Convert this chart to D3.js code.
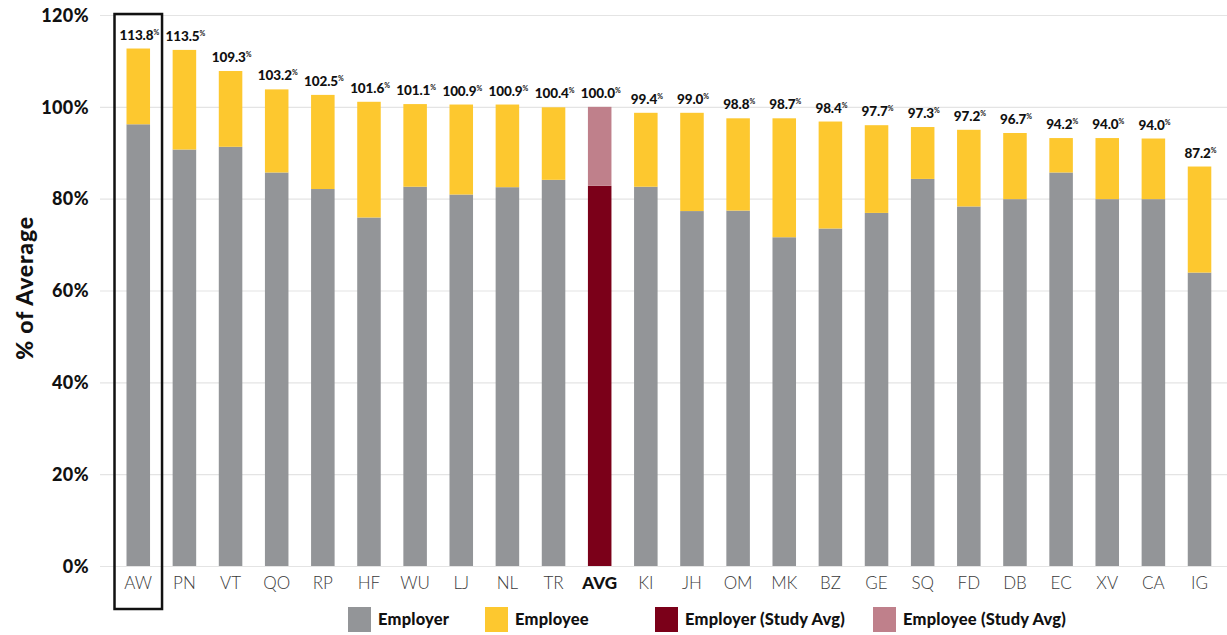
<!DOCTYPE html>
<html>
<head>
<meta charset="utf-8">
<script src="https://cdn.jsdelivr.net/npm/d3@7"></script>
<style>
  html, body { margin: 0; padding: 0; background: #fff; }
  svg { display: block; }
</style>
</head>
<body>
<svg id="chart" width="1227" height="635"></svg>
<script>
// ---- data ----
const categories  = ["AW","PN","VT","QO","RP","HF","WU","LJ","NL","TR","AVG","KI","JH","OM","MK","BZ","GE","SQ","FD","DB","EC","XV","CA","IG"];
const totalLabels = [113.8,113.5,109.3,103.2,102.5,101.6,101.1,100.9,100.9,100.4,100.0,99.4,99.0,98.8,98.7,98.4,97.7,97.3,97.2,96.7,94.2,94.0,94.0,87.2];
const employer    = [96.2,90.7,91.3,85.7,82.1,75.9,82.6,80.9,82.5,84.1,82.8,82.6,77.3,77.4,71.6,73.5,76.9,84.3,78.3,79.9,85.7,79.9,79.9,63.9];
const employee    = [16.5,21.7,16.5,18.1,20.5,25.2,18.0,19.6,18.0,15.8,17.2,16.1,21.4,20.1,25.9,23.3,19.1,11.3,16.7,14.4,7.5,13.3,13.2,23.1];
const yTicks      = [0,20,40,60,80,100,120];
const legendLabels = ["Employer","Employee","Employer (Study Avg)","Employee (Study Avg)"];
const avgCategory = "AVG";
const highlightCategory = "AW";

// ---- styles ----
const colors = { employer:"#939598", employee:"#fdc82f", avgEmployer:"#7b0019", avgEmployee:"#bf808b" };
const legendColors = [colors.employer, colors.employee, colors.avgEmployer, colors.avgEmployee];
const FONT = "Lato, 'Open Sans', sans-serif";

const svg = d3.select("#chart");

const y = d3.scaleLinear().domain([0,120]).range([566,15]);
const x = d3.scaleBand().domain(categories).range([115.2,1222.6]).paddingInner(0.49).paddingOuter(0.245);

// gridlines
const grid = svg.append("g").attr("transform","translate(100,0)")
  .call(d3.axisLeft(y).tickValues(yTicks).tickSize(-1127).tickFormat(""));
grid.select(".domain").remove();
grid.selectAll("line").attr("stroke","#e4e4e4").attr("stroke-width",1.2);

// y axis labels
const yAxis = svg.append("g").attr("transform","translate(89,0)")
  .call(d3.axisLeft(y).tickValues(yTicks).tickSize(0).tickPadding(0).tickFormat(d => d + "%"));
yAxis.select(".domain").remove();
yAxis.selectAll("text").attr("font-family",FONT).attr("font-weight",900).attr("font-size",18)
  .attr("letter-spacing",0.4).attr("fill","#111").attr("dy","0.35em");

// y title
svg.append("text").attr("transform","translate(33,288) rotate(-90)")
  .attr("text-anchor","middle").attr("font-family",FONT).attr("font-weight",900)
  .attr("font-size",23).attr("letter-spacing",0.8).attr("fill","#111").text("% of Average");

// bars
const rows = categories.map((c,i) => ({c, emp: employer[i], ee: employee[i], lab: totalLabels[i]}));
const bars = svg.append("g");
bars.selectAll("rect.er").data(rows).join("rect")
  .attr("x", d => x(d.c)).attr("width", x.bandwidth())
  .attr("y", d => y(d.emp)).attr("height", d => y(0) - y(d.emp))
  .attr("fill", d => d.c === avgCategory ? colors.avgEmployer : colors.employer);
bars.selectAll("rect.ee").data(rows).join("rect")
  .attr("x", d => x(d.c)).attr("width", x.bandwidth())
  .attr("y", d => y(d.emp + d.ee)).attr("height", d => y(d.emp) - y(d.emp + d.ee))
  .attr("fill", d => d.c === avgCategory ? colors.avgEmployee : colors.employee);

// value labels
const vl = svg.append("g").selectAll("text").data(rows).join("text")
  .attr("x", d => x(d.c) + x.bandwidth()/2 + 1)
  .attr("y", d => y(d.emp + d.ee) - 9)
  .attr("text-anchor","middle").attr("font-family",FONT).attr("font-weight",900)
  .attr("font-size",13.5).attr("fill","#111").attr("letter-spacing",-0.1);
vl.append("tspan").text(d => d.lab.toFixed(1));
vl.append("tspan").attr("font-size",7).attr("dy",-5).attr("font-weight",700).text("%");

// category labels
svg.append("g").selectAll("text").data(categories).join("text")
  .attr("x", d => x(d) + x.bandwidth()/2).attr("y", 589)
  .attr("text-anchor","middle").attr("font-family",FONT)
  .attr("font-weight", d => d === avgCategory ? 900 : 300)
  .attr("font-size",17).attr("fill", d => d === avgCategory ? "#111" : "#3a3a3a")
  .text(d => d);

// highlight box
svg.append("rect")
  .attr("x", x(highlightCategory) - 12).attr("y", 14)
  .attr("width", x.bandwidth() + 24).attr("height", 595)
  .attr("fill","none").attr("stroke","#111").attr("stroke-width",2.5);

// legend
const legendX = [348, 485, 655, 873];
const lg = svg.append("g").selectAll("g").data(legendLabels).join("g")
  .attr("transform", (d,i) => `translate(${legendX[i]},607)`);
lg.append("rect").attr("width",23).attr("height",25).attr("fill",(d,i) => legendColors[i]);
lg.append("text").attr("x",30).attr("y",18).attr("font-family",FONT).attr("font-weight",900)
  .attr("font-size",16.5).attr("letter-spacing",0.2).attr("fill","#111").text(d => d);
</script>
</body>
</html>
